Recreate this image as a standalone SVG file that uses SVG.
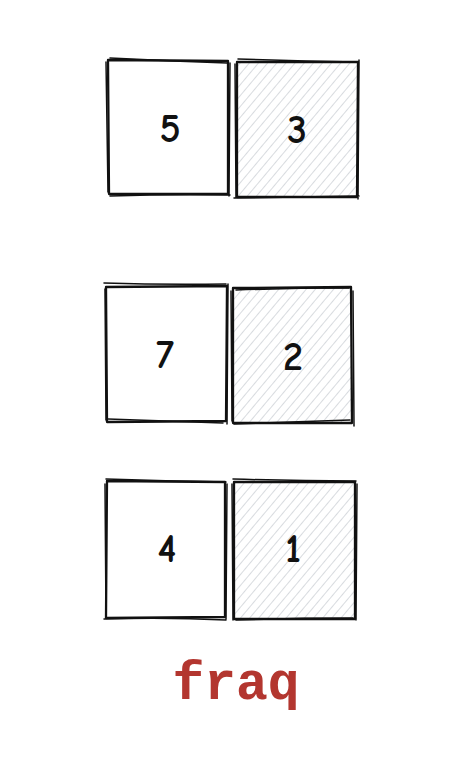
<svg xmlns="http://www.w3.org/2000/svg" width="468" height="766" viewBox="0 0 468 766">
<style>
.s{fill:none;stroke:#111;stroke-width:2.3;stroke-linecap:round;stroke-linejoin:round}
.s2{fill:none;stroke:#111;stroke-width:1.5;stroke-linecap:round}
.h{fill:url(#hatch)}
.n{font-family:"Comic Neue","Liberation Sans",sans-serif;font-size:40px;font-weight:bold;fill:#111;text-anchor:middle}
.lbl{font-family:"Liberation Mono","DejaVu Sans Mono",monospace;font-size:53px;font-weight:bold;fill:#b3362f;text-anchor:middle}
</style>
<defs>
<pattern id="hatch" patternUnits="userSpaceOnUse" width="7" height="7" patternTransform="rotate(40)">
<line x1="0" y1="0" x2="0" y2="7" stroke="#c3c8ce" stroke-width="1.3"/>
</pattern>
</defs>
<rect width="468" height="766" fill="#fff"/>
<g id="connectors"/>
<g id="n5">
<path class="s" d="M108 60 L228 61 L228 194 L109 194 Z"/>
<path class="s2" d="M110 58 Q170 61 227 63 M106 62 L108 192 M230 63 L229 196 M110 196 Q170 194 230 195"/>
<text class="n" x="170" y="142">5</text>
</g>
<g id="n3">
<rect class="h" x="237" y="62" width="121" height="135"/>
<path class="s" d="M237 62 L358 62 L357 197 L237 197 Z"/>
<path class="s2" d="M238 59 Q300 61 356 62 M235 64 L236 198 M359 60 L358 199 M234 198 Q300 197 359 196"/>
<text class="n" x="297" y="143">3</text>
</g>
<g id="n7">
<path class="s" d="M106 287 L227 286 L226 421 L107 422 Z"/>
<path class="s2" d="M104 283 Q165 285 226 284 M105 289 L106 420 M228 284 L227 424 M108 419 Q170 421 223 423"/>
<text class="n" x="165" y="368">7</text>
</g>
<g id="n2">
<rect class="h" x="233" y="288" width="119" height="135"/>
<path class="s" d="M233 288 L351 287 L352 423 L233 423 Z"/>
<path class="s2" d="M236 290 Q292 288 349 288 M231 291 L232 421 M353 291 L354 426 M234 424 Q292 422 350 420"/>
<text class="n" x="293" y="370">2</text>
</g>
<g id="n4">
<path class="s" d="M107 481 L225 482 L225 617 L106 618 Z"/>
<path class="s2" d="M106 479 Q165 481 226 482 M105 484 L106 616 M227 484 L226 619 M104 619 Q165 617 226 620"/>
<text class="n" x="167" y="562">4</text>
</g>
<g id="n1">
<rect class="h" x="234" y="482" width="121" height="137"/>
<path class="s" d="M234 482 L355 482 L355 619 L234 619 Z"/>
<path class="s2" d="M233 479 Q295 481 356 481 M232 484 L233 620 M357 484 L356 620 M236 620 Q295 618 353 618"/>
<text class="n" x="293" y="562">1</text>
</g>
<g id="label">
<text class="lbl" x="236" y="699">fraq</text>
</g>
</svg>
